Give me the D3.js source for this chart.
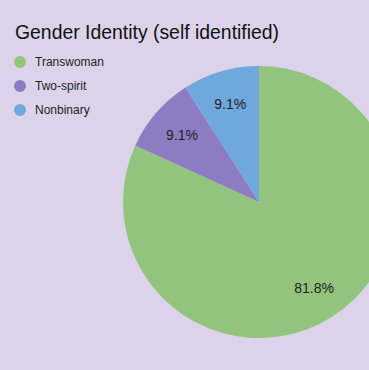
<!DOCTYPE html>
<html>
<head>
<meta charset="utf-8">
<script src="https://cdn.jsdelivr.net/npm/d3@7"></script>
<style>
  body { margin: 0; background: #dcd3ea; }
  svg { display: block; }
</style>
</head>
<body>
<div id="chart"></div>
<script>
var categories = ["Transwoman", "Two-spirit", "Nonbinary"];
var counts = [9, 1, 1];
var colors = ["#93c47d", "#8e7cc3", "#6fa8dc"];

var width = 369, height = 370;
var cx = 259, cy = 202, radius = 136;

var data = categories.map(function(c, i) {
    return { name: c, value: counts[i] };
});
var total = d3.sum(counts);

var color = d3.scaleOrdinal()
    .domain(categories)
    .range(colors);

var svg = d3.select("#chart").append("svg")
    .attr("width", width)
    .attr("height", height);

svg.append("rect")
    .attr("width", width)
    .attr("height", height)
    .attr("fill", "#dcd3ea");

svg.append("text")
    .attr("x", 15)
    .attr("y", 39)
    .attr("font-family", "Liberation Sans, Arial, sans-serif")
    .attr("font-size", "19.4px")
    .attr("fill", "#111")
    .text("Gender Identity (self identified)");

// legend
var legend = svg.selectAll(".legend")
    .data(categories)
    .enter().append("g")
    .attr("class", "legend")
    .attr("transform", function(d, i) {
        return "translate(20," + (62 + i * 24) + ")";
    });

legend.append("circle")
    .attr("r", 6)
    .attr("fill", function(d) { return color(d); });

legend.append("text")
    .attr("x", 15)
    .attr("dy", "0.35em")
    .attr("font-family", "Liberation Sans, Arial, sans-serif")
    .attr("font-size", "12px")
    .attr("fill", "#222")
    .text(function(d) { return d; });

var pie = d3.pie()
    .sort(null)
    .value(function(d) { return d.value; });

var arc = d3.arc()
    .innerRadius(0)
    .outerRadius(radius);

var labelArc = d3.arc()
    .innerRadius(radius * 0.75)
    .outerRadius(radius * 0.75);

var g = svg.append("g")
    .attr("transform", "translate(" + cx + "," + cy + ")");

g.selectAll("path")
    .data(pie(data))
    .enter().append("path")
    .attr("d", arc)
    .attr("fill", function(d) { return color(d.data.name); });

g.selectAll(".label")
    .data(pie(data))
    .enter().append("text")
    .attr("class", "label")
    .attr("transform", function(d) { return "translate(" + labelArc.centroid(d) + ")"; })
    .attr("text-anchor", "middle")
    .attr("dy", "0.35em")
    .attr("font-family", "Liberation Sans, Arial, sans-serif")
    .attr("font-size", "14px")
    .attr("fill", "#222")
    .text(function(d) { return (d.data.value / total * 100).toFixed(1) + "%"; });
</script>
</body>
</html>
